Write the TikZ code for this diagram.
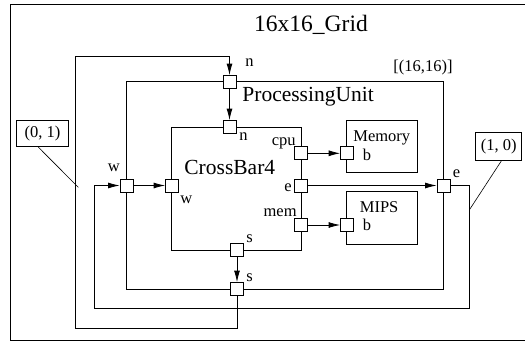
\documentclass[tikz,border=0pt]{standalone}
\usepackage{fontspec}
\setmainfont{Liberation Serif}
\usetikzlibrary{arrows.meta}
\begin{document}
\begin{tikzpicture}[x=1pt,y=-1pt,
  line width=0.8pt,
  port/.style={draw,fill=white,rectangle,minimum width=13pt,minimum height=13pt,inner sep=0pt},
  block/.style={draw,rectangle,inner sep=0pt},
  lbl/.style={inner sep=0pt,font=\fontsize{16.5}{18}\selectfont},
  biglbl/.style={inner sep=0pt,font=\fontsize{21.5}{24}\selectfont},
  tag/.style={draw,rectangle,inner sep=0pt,font=\fontsize{16.5}{18}\selectfont},
  arr/.style={-{Latex[length=11.5pt,width=6pt]}}
]
\useasboundingbox (0,0) rectangle (525,341);
% outer frame
\draw (527,4) -- (10,4) -- (10,340) -- (527,340);
\node[inner sep=0pt,anchor=base,font=\fontsize{23.5}{26}\selectfont] (title) at (311,31.7) {16x16\_Grid};
% blocks
\node[block,minimum width=317.2pt,minimum height=207.6pt] (pu) at (284.9,185.5) {};
\node[block,minimum width=130pt,minimum height=122.3pt] (cb) at (236.7,188.85) {};
\node[block,minimum width=71pt,minimum height=52pt] (mem) at (382.2,146.7) {};
\node[block,minimum width=71pt,minimum height=52.3pt] (mips) at (382.2,217.85) {};
% block labels
\node[biglbl,anchor=base west] (pulbl) at (242,101) {ProcessingUnit};
\node[biglbl,anchor=base west] (cblbl) at (184,174) {CrossBar4};
\node[lbl,anchor=base west] (memlbl) at (353,141.7) {Memory};
\node[lbl,anchor=base west] (mipslbl) at (359.5,212.7) {MIPS};
\node[lbl,anchor=base] (idx) at (423,71) {[(16,16)]};
% ports
\node[port] (pun) at (229.5,82) {};
\node[port] (cbn) at (229.5,127) {};
\node[port] (puw) at (126.5,185.5) {};
\node[port] (cbw) at (172,185.5) {};
\node[port] (cbs) at (237,250) {};
\node[port] (pus) at (237,289) {};
\node[port] (cbcpu) at (301,153.3) {};
\node[port] (cbe) at (301,185.5) {};
\node[port] (cbmem) at (301,225) {};
\node[port] (memb) at (347,153.3) {};
\node[port] (mipsb) at (347,225) {};
\node[port] (pue) at (443.5,185.5) {};
% port labels
\node[lbl,anchor=base west] (l1) at (245,66.5) {n};
\node[lbl,anchor=base west] (l2) at (239,140) {n};
\node[lbl,anchor=base west] (l3) at (107.5,171.7) {w};
\node[lbl,anchor=base west] (l4) at (180,203) {w};
\node[lbl,anchor=base west] (l5) at (246,242.5) {s};
\node[lbl,anchor=base west] (l6) at (246,281.7) {s};
\node[lbl,anchor=base east] (l7) at (296,145) {cpu};
\node[lbl,anchor=base east] (l8) at (292,191.7) {e};
\node[lbl,anchor=base east] (l9) at (297,216.7) {mem};
\node[lbl,anchor=base west] (l10) at (362.5,160) {b};
\node[lbl,anchor=base west] (l11) at (362.5,230) {b};
\node[lbl,anchor=base west] (l12) at (452.5,177.7) {e};
% internal connections
\draw[arr] (pun) -- (cbn);
\draw[arr] (puw) -- (cbw);
\draw[arr] (cbs) -- (pus);
\draw[arr] (cbcpu) -- (memb);
\draw[arr] (cbe) -- (pue);
\draw[arr] (cbmem) -- (mipsb);
% loops
\coordinate (ea) at (469.3,185.5);
\coordinate (eb) at (469.3,308.3);
\coordinate (ec) at (94.3,308.3);
\coordinate (ed) at (94.3,185.5);
\draw[arr] (pue.east) -- (ea) -- (eb) -- (ec) -- (ed) -- (puw.west);
\coordinate (sa) at (237,328.3);
\coordinate (sb) at (75,328.3);
\coordinate (sc) at (75,56.7);
\coordinate (sd) at (229.5,56.7);
\draw[arr] (pus.south) -- (sa) -- (sb) -- (sc) -- (sd) -- (pun.north);
% tags
\node[tag,minimum width=51.6pt,minimum height=26pt] (t01) at (42.5,133.7) {(0, 1)};
\node[tag,minimum width=46pt,minimum height=27.3pt] (t10) at (498.7,146.3) {(1, 0)};
\coordinate (t01end) at (78.3,187.3);
\coordinate (t10end) at (469.3,210);
\draw[line width=0.6pt] (t01.south) ++(-4.2,0) -- (t01end);
\draw[line width=0.6pt] (t10.south) ++(3,0) -- (t10end);
\end{tikzpicture}
\end{document}
